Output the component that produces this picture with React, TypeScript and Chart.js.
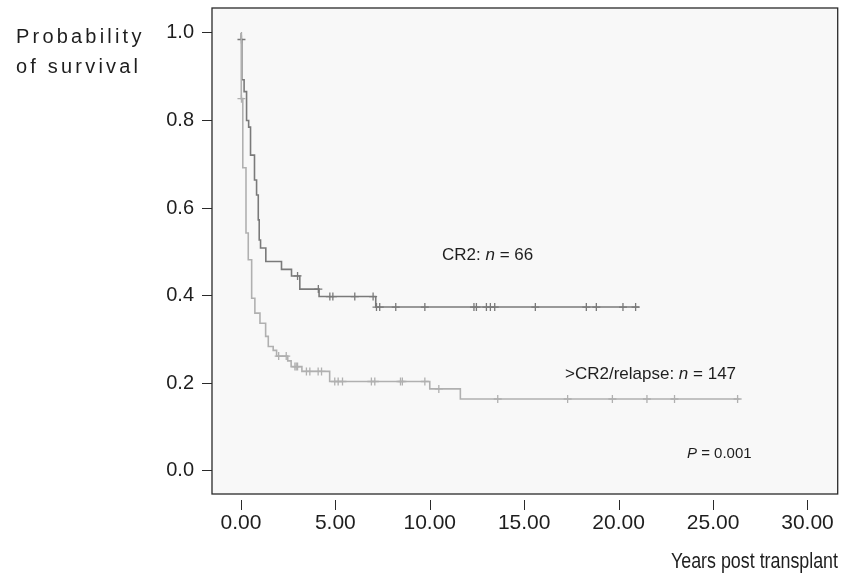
import React, { useEffect, useRef } from "react";
import { Chart, registerables } from "chart.js";

Chart.register(...registerables);

// ---- data ----
const xTickValues = [0, 5, 10, 15, 20, 25, 30];
const yTickValues = [0, 0.2, 0.4, 0.6, 0.8, 1.0];

// CR2 group (darker curve): event times (years) and survival after each step
const cr2Times = [0, 0.02, 0.05, 0.17, 0.3, 0.41, 0.51, 0.72, 0.83, 0.92, 0.97, 1.04, 1.32, 2.15, 2.68, 3.12, 4.14, 7.14, 21.1];
const cr2Surv = [1.0, 0.985, 0.893, 0.866, 0.8, 0.785, 0.721, 0.664, 0.63, 0.573, 0.527, 0.509, 0.478, 0.46, 0.445, 0.415, 0.398, 0.374, 0.374];
const cr2Censored = [0.03, 3.0, 4.1, 4.71, 4.87, 6.03, 7.0, 7.18, 7.35, 8.2, 9.74, 12.34, 12.47, 13.0, 13.21, 13.44, 15.59, 18.29, 18.82, 20.23, 20.9];

// >CR2 / relapse group (lighter curve)
const relTimes = [0, 0.02, 0.1, 0.27, 0.39, 0.57, 0.74, 1.01, 1.31, 1.45, 1.71, 1.89, 2.48, 2.66, 3.23, 4.7, 10.0, 11.62, 26.4];
const relSurv = [1.0, 0.85, 0.692, 0.543, 0.482, 0.394, 0.36, 0.337, 0.307, 0.284, 0.275, 0.262, 0.251, 0.238, 0.227, 0.204, 0.187, 0.164, 0.164];
const relCensored = [0.03, 2.0, 2.4, 2.86, 2.93, 3.0, 3.47, 3.65, 4.09, 4.27, 4.97, 5.15, 5.38, 6.91, 7.09, 8.45, 8.55, 9.74, 10.48, 13.6, 17.3, 19.67, 21.5, 22.96, 26.3];

// text parts: odd indexes are italic
const labelCR2 = ["CR2: ", "n", " = 66"];
const labelRel = [">CR2/relapse: ", "n", " = 147"];
const labelP = ["", "P", " = 0.001"];
const yTitle = ["Probability", "of survival"];
const xTitle = "Years post transplant";

const FONT = "'Liberation Sans', Arial, Helvetica, sans-serif";
const DARK = "#7a7a7a";
const LIGHT = "#b0b0b0";

function stepAt(times: number[], surv: number[], t: number) {
  let s = surv[0];
  for (let i = 0; i < times.length; i++) if (times[i] <= t) s = surv[i];
  return s;
}

function drawRich(ctx: CanvasRenderingContext2D, parts: string[], x: number, y: number, size: number) {
  let cx = x;
  parts.forEach((p, i) => {
    const italic = i % 2 === 1;
    ctx.font = `${italic ? "italic " : ""}${size}px ${FONT}`;
    ctx.fillText(p, cx, y);
    cx += ctx.measureText(p).width;
  });
}

const framePlugin = {
  id: "frame",
  beforeDraw(chart: any) {
    const { ctx, chartArea: a } = chart;
    ctx.save();
    ctx.fillStyle = "#ffffff";
    ctx.fillRect(0, 0, chart.width, chart.height);
    ctx.fillStyle = "#f8f8f8";
    ctx.fillRect(a.left, a.top, a.right - a.left, a.bottom - a.top);
    ctx.restore();
  },
  afterDraw(chart: any) {
    const { ctx, chartArea: a } = chart;
    const xs = chart.scales.x;
    ctx.save();
    ctx.strokeStyle = "#2a2a2a";
    ctx.lineWidth = 1.3;
    ctx.strokeRect(a.left, a.top, a.right - a.left, a.bottom - a.top);
    // x tick marks detached below the frame
    ctx.lineWidth = 1;
    xTickValues.forEach((v) => {
      const px = Math.round(xs.getPixelForValue(v)) + 0.5;
      ctx.beginPath();
      ctx.moveTo(px, a.bottom + 6);
      ctx.lineTo(px, a.bottom + 16);
      ctx.stroke();
    });
    ctx.fillStyle = "#1e1e1e";
    ctx.textBaseline = "alphabetic";
    ctx.textAlign = "left";
    // y title with letter spacing
    ctx.font = `20px ${FONT}`;
    (ctx as any).letterSpacing = "3.2px";
    ctx.fillText(yTitle[0], 16, 43);
    ctx.fillText(yTitle[1], 16, 73);
    (ctx as any).letterSpacing = "0px";
    // x title (slightly condensed)
    ctx.save();
    ctx.font = `21.5px ${FONT}`;
    ctx.textAlign = "right";
    ctx.translate(838, 568);
    ctx.scale(0.83, 1);
    ctx.fillText(xTitle, 0, 0);
    ctx.restore();
    ctx.textAlign = "left";
    // annotations
    drawRich(ctx, labelCR2, 442, 260, 17);
    drawRich(ctx, labelRel, 565, 379, 17);
    drawRich(ctx, labelP, 687, 458, 15);
    ctx.restore();
  },
};

export default function App() {
  const ref = useRef<HTMLCanvasElement | null>(null);
  useEffect(() => {
    if (!ref.current) return;
    const cr2Line = cr2Times.map((t, i) => ({ x: t, y: cr2Surv[i] }));
    const relLine = relTimes.map((t, i) => ({ x: t, y: relSurv[i] }));
    const cr2Marks = cr2Censored.map((t) => ({ x: t, y: stepAt(cr2Times, cr2Surv, t) }));
    const relMarks = relCensored.map((t) => ({ x: t, y: stepAt(relTimes, relSurv, t) }));
    const chart = new Chart(ref.current, {
      type: "scatter",
      data: {
        datasets: [
          { label: ">CR2/relapse", data: relLine, showLine: true, stepped: "before", borderColor: LIGHT, borderWidth: 1.6, pointRadius: 0 } as any,
          { label: ">CR2/relapse censored", data: relMarks, pointStyle: "cross", pointRadius: 4, borderColor: LIGHT, borderWidth: 1.3, backgroundColor: LIGHT } as any,
          { label: "CR2", data: cr2Line, showLine: true, stepped: "before", borderColor: DARK, borderWidth: 1.6, pointRadius: 0 } as any,
          { label: "CR2 censored", data: cr2Marks, pointStyle: "cross", pointRadius: 4, borderColor: DARK, borderWidth: 1.3, backgroundColor: DARK } as any,
        ],
      },
      options: {
        responsive: false,
        animation: false,
        events: [],
        layout: { padding: { top: 8, right: 5, left: 0, bottom: 0 } },
        plugins: { legend: { display: false }, tooltip: { enabled: false } },
        scales: {
          x: {
            type: "linear",
            min: -1.53,
            max: 31.6,
            grid: { display: false, drawTicks: false },
            border: { display: false },
            afterBuildTicks: (s: any) => { s.ticks = xTickValues.map((v) => ({ value: v })); },
            afterFit: (s: any) => { s.height = 85; s.paddingLeft = 0; s.paddingRight = 0; },
            ticks: {
              padding: 17,
              color: "#1e1e1e",
              font: { family: FONT, size: 21 },
              maxRotation: 0,
              callback: (v: any) => Number(v).toFixed(2),
            },
          },
          y: {
            type: "linear",
            min: -0.053,
            max: 1.057,
            grid: { display: true, drawOnChartArea: false, drawTicks: true, tickLength: 10, tickColor: "#2a2a2a", lineWidth: 1 },
            border: { display: false },
            afterBuildTicks: (s: any) => { s.ticks = yTickValues.map((v) => ({ value: v })); },
            afterFit: (s: any) => { s.width = 212; s.paddingTop = 0; s.paddingBottom = 0; },
            ticks: {
              padding: 8,
              color: "#1e1e1e",
              font: { family: FONT, size: 20 },
              callback: (v: any) => Number(v).toFixed(1),
            },
          },
        },
      },
      plugins: [framePlugin],
    } as any);
    return () => chart.destroy();
  }, []);
  return (
    <div style={{ position: "absolute", left: 0, top: 0, width: 843, height: 579 }}>
      <canvas ref={ref} width={843} height={579} style={{ display: "block", width: 843, height: 579 }} />
    </div>
  );
}
